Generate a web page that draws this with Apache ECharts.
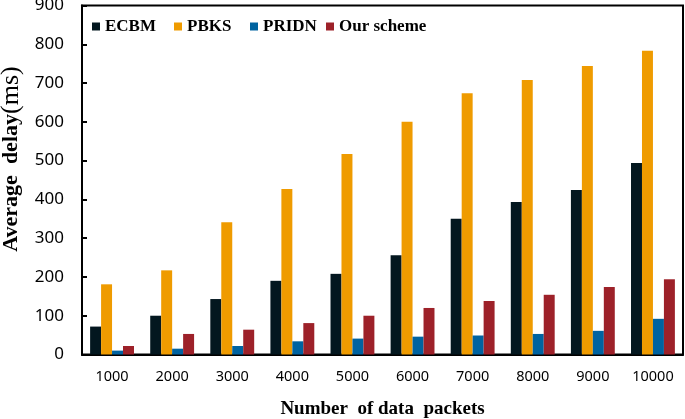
<!DOCTYPE html>
<html>
<head>
<meta charset="utf-8">
<script src="https://cdn.jsdelivr.net/npm/echarts@6/dist/echarts.min.js"></script>
<style>
html,body{margin:0;padding:0;background:#fff;}
#chart{width:685px;height:419px;}
</style>
</head>
<body>
<div id="chart"></div>
<script>
const categories = ['1000','2000','3000','4000','5000','6000','7000','8000','9000','10000'];
const ecbm   = [72, 100, 143, 190, 208, 256, 350, 393, 424, 494];
const pbks   = [181, 217, 341, 427, 517, 600, 674, 708, 744, 783];
const pridn  = [10, 15, 22, 34, 41, 46, 49, 53, 61, 92];
const ours   = [22, 53, 64, 81, 100, 120, 138, 154, 174, 194];
const yTicks = [0, 900, 100];

const seriesNames = ['ECBM', 'PBKS', 'PRIDN', 'Our scheme'];
const seriesData = [ecbm, pbks, pridn, ours];
const colors = ['#03171f', '#ef9b00', '#0063a0', '#9d2129'];
const legendLeft = [92, 174, 250, 326];

const chart = echarts.init(document.getElementById('chart'), null, {renderer: 'canvas'});
const legendFont = {fontFamily: '"Liberation Serif", "Times New Roman", serif', fontWeight: 'bold', fontSize: 17, color: '#000'};

const option = {
  animation: false,
  backgroundColor: '#fff',
  grid: {
    left: 82, right: 2, top: 5.5, bottom: 64.5,
    containLabel: false,
    outerBoundsMode: 'none',
    show: true, borderColor: '#000', borderWidth: 2, backgroundColor: 'transparent'
  },
  legend: seriesNames.map((n, i) => ({
    data: [n],
    left: legendLeft[i],
    top: 18,
    padding: 0,
    itemWidth: 8,
    itemHeight: 8,
    itemGap: 0,
    icon: 'rect',
    textStyle: legendFont
  })),
  xAxis: {
    type: 'category',
    data: categories,
    name: 'Number  of data  packets',
    nameLocation: 'middle',
    nameGap: 45,
    nameTextStyle: {fontFamily: '"Liberation Serif", "Times New Roman", serif', fontWeight: 'bold', fontSize: 19, color: '#000'},
    axisLine: {lineStyle: {color: '#000', width: 2}},
    axisTick: {inside: true, length: 5, lineStyle: {color: '#000', width: 2}},
    axisLabel: {margin: 15, fontFamily: '"Noto Sans", sans-serif', fontSize: 14.5, color: '#000'}
  },
  yAxis: {
    type: 'value',
    min: yTicks[0], max: yTicks[1], interval: yTicks[2],
    name: '{b|Average  delay}{n|(ms)}',
    nameLocation: 'middle',
    nameGap: 56,
    nameTextStyle: {
      padding: [0, 0, 0, 42],
      rich: {
        b: {fontFamily: '"Liberation Serif", "Times New Roman", serif', fontWeight: 'bold', fontSize: 22, color: '#000'},
        n: {fontFamily: '"Liberation Serif", "Times New Roman", serif', fontWeight: 'normal', fontSize: 26, color: '#000'}
      }
    },
    splitLine: {show: false},
    axisLine: {show: true, lineStyle: {color: '#000', width: 2}},
    axisTick: {show: true, inside: true, length: 5, lineStyle: {color: '#000', width: 2}},
    axisLabel: {margin: 18, fontFamily: '"Noto Sans", sans-serif', fontSize: 17, color: '#000'}
  },
  series: seriesNames.map((n, i) => ({
    name: n,
    type: 'bar',
    data: seriesData[i],
    barGap: '0%',
    barCategoryGap: '27%',
    itemStyle: {color: colors[i]}
  }))
};
chart.setOption(option);
</script>
</body>
</html>
